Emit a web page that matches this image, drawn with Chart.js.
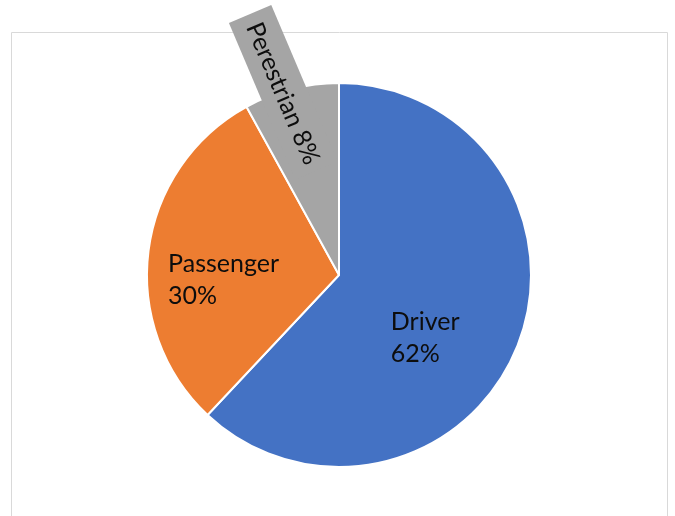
<!DOCTYPE html>
<html>
<head>
<meta charset="utf-8">
<script src="https://cdn.jsdelivr.net/npm/chart.js@4.4.1/dist/chart.umd.min.js"></script>
<style>
  html, body { margin: 0; padding: 0; background: #ffffff; }
  #wrap { width: 675px; height: 516px; position: relative; }
</style>
</head>
<body>
<div id="wrap"><canvas id="pie" width="675" height="516"></canvas></div>
<script>
// Share of casualties by road-user type (percent)
const categories = ['Driver', 'Passenger', 'Perestrian'];
const shares = [62, 30, 8];
const sliceColors = ['#4472C4', '#ED7D31', '#A5A5A5'];

const LABEL_FONT = '25px Lato, "DejaVu Sans", sans-serif';
const LINE_GAP = 32;

// Where each data label sits, relative to the pie centre in units of the radius.
// 'block' labels are two left-aligned lines; 'callout' is a rotated boxed label.
const labelPlacement = [
  { kind: 'block', dx: 0.27, dy: 0.288 },
  { kind: 'block', dx: -0.89, dy: -0.014 },
  { kind: 'callout', dx: -0.288, dy: -0.947, angle: 67, boxWidth: 46, before: 86, after: 84 }
];

// Thin chart-area frame behind everything
const framePlugin = {
  id: 'frame',
  beforeDraw(chart) {
    const ctx = chart.ctx;
    ctx.save();
    ctx.strokeStyle = '#D9D9D9';
    ctx.lineWidth = 1;
    ctx.beginPath();
    ctx.moveTo(11.5, 516);
    ctx.lineTo(11.5, 32.5);
    ctx.lineTo(667.5, 32.5);
    ctx.lineTo(667.5, 516);
    ctx.stroke();
    ctx.restore();
  }
};

// Category name + percentage drawn on each slice
const sliceLabels = {
  id: 'sliceLabels',
  afterDatasetsDraw(chart) {
    const ctx = chart.ctx;
    const meta = chart.getDatasetMeta(0);
    meta.data.forEach((arc, i) => {
      const p = labelPlacement[i];
      const r = arc.outerRadius;
      const x = arc.x + p.dx * r;
      const y = arc.y + p.dy * r;
      const share = chart.data.datasets[0].data[i];
      ctx.save();
      ctx.font = LABEL_FONT;
      ctx.fillStyle = '#0D0D0D';
      if (p.kind === 'block') {
        ctx.textAlign = 'left';
        ctx.textBaseline = 'alphabetic';
        ctx.fillText(chart.data.labels[i], x, y);
        ctx.fillText(share + '%', x, y + LINE_GAP);
      } else {
        ctx.translate(x, y);
        ctx.rotate(p.angle * Math.PI / 180);
        ctx.fillStyle = sliceColors[i];
        ctx.fillRect(-p.before, -p.boxWidth / 2, p.before + p.after, p.boxWidth);
        ctx.fillStyle = '#0D0D0D';
        ctx.textAlign = 'center';
        ctx.textBaseline = 'middle';
        ctx.fillText(chart.data.labels[i] + ' ' + share + '%', 0, 1);
      }
      ctx.restore();
    });
  }
};

new Chart(document.getElementById('pie'), {
  type: 'pie',
  data: {
    labels: categories,
    datasets: [{
      data: shares,
      backgroundColor: sliceColors,
      borderColor: '#FFFFFF',
      borderWidth: 2,
      hoverOffset: 0
    }]
  },
  options: {
    responsive: false,
    animation: false,
    radius: 192,
    layout: { padding: { left: 148, right: 145, top: 84, bottom: 50 } },
    plugins: {
      legend: { display: false },
      tooltip: { enabled: false },
      title: { display: false }
    },
    events: []
  },
  plugins: [framePlugin, sliceLabels]
});
</script>
</body>
</html>
